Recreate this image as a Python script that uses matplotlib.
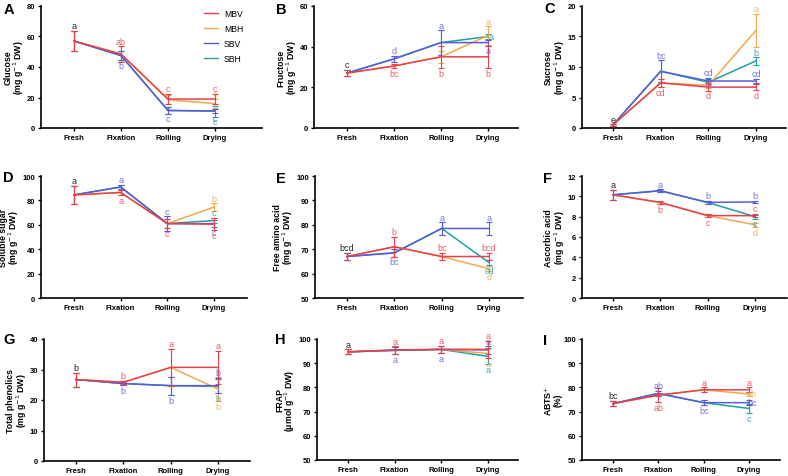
import numpy as np
import matplotlib
matplotlib.use("Agg")
from matplotlib import pyplot as plt

plt.rcParams['font.family'] = ['Liberation Sans', 'DejaVu Sans']

stages = ['Fresh', 'Fixation', 'Rolling', 'Drying']
series = ['MBV', 'MBH', 'SBV', 'SBH']
colors = ['#E8404A', '#F2A94E', '#5A5ADC', '#1FA0A4']

# values per series (MBV, MBH, SBV, SBH) at Fresh, Fixation, Rolling, Drying
glucose = [[57, 48.5, 19, 19], [57, 48.5, 18.5, 16], [57, 47.5, 11.5, 11.2], [57, 47.5, 11.5, 11]]
glucose_err = [[6.5, 5, 3.5, 3.5], [6.5, 5, 3, 3], [6.5, 3, 2, 1.5], [6.5, 3, 2, 3.5]]
glucose_let = [(0, 0, 'a', 1), (1, 0, 'ab', 1), (1, 2, 'b', -1), (2, 0, 'c', 1), (2, 2, 'c', -1),
               (3, 0, 'c', 1), (3, 1, 'c', 1), (3, 2, 'c', -1), (3, 3, 'c', -1)]

fructose = [[27, 30.5, 35, 35], [27, 30.5, 35, 45.5], [27, 34, 42, 42], [27, 34, 42, 45]]
fructose_err = [[1.5, 1, 5.5, 5.5], [1.5, 1, 3, 4.5], [1.5, 1.5, 6, 1.5], [1.5, 1.5, 6, 1]]
fructose_let = [(0, 0, 'c', 1), (1, 2, 'd', 1), (1, 0, 'bc', -1), (2, 2, 'a', 1), (2, 0, 'b', -1),
                (3, 1, 'a', 1), (3, 3, 'a', 0), (3, 2, 'a', -1), (3, 0, 'b', -1)]

sucrose = [[0.5, 7.4, 6.7, 6.7], [0.5, 7.4, 7.0, 16], [0.5, 9.3, 7.7, 7.7], [0.5, 9.3, 7.5, 11]]
sucrose_err = [[0.1, 0.7, 0.6, 0.5], [0.1, 0.7, 0.5, 2.7], [0.1, 1.8, 0.5, 0.4], [0.1, 1.8, 0.5, 0.6]]
sucrose_let = [(0, 0, 'e', 1), (1, 2, 'bc', 1), (1, 0, 'cd', -1), (2, 2, 'cd', 1), (2, 0, 'd', -1),
               (3, 1, 'a', 1), (3, 3, 'b', 1), (3, 2, 'cd', 1), (3, 0, 'd', -1)]

soluble = [[84.5, 86.5, 61, 60.5], [84.5, 86.5, 61, 74.5], [84.5, 91, 61, 61], [84.5, 91, 61, 63.5]]
soluble_err = [[7.5, 2, 4, 5], [7.5, 2, 4, 3], [7.5, 2, 6, 3], [7.5, 2, 6, 2]]
soluble_let = [(0, 0, 'a', 1), (1, 2, 'a', 1), (1, 0, 'a', -1), (2, 2, 'c', 1), (2, 0, 'c', -1),
               (3, 1, 'b', 1), (3, 3, 'c', 1), (3, 2, 'c', -1), (3, 0, 'c', -1)]

amino = [[67, 71, 67, 67], [67, 71, 67, 62], [67, 68.5, 78.5, 78.5], [67, 68.5, 78.5, 64.5]]
amino_err = [[1.5, 4, 1.5, 1.5], [1.5, 4, 1.5, 1], [1.5, 1.5, 2.5, 2.5], [1.5, 1.5, 2.5, 1]]
amino_let = [(0, 0, 'bcd', 1), (1, 0, 'b', 1), (1, 2, 'bc', -1), (2, 2, 'a', 1), (2, 0, 'bc', 1),
             (3, 2, 'a', 1), (3, 0, 'bcd', 1), (3, 3, 'cd', -1), (3, 1, 'd', -1)]

ascorbic = [[10.15, 9.4, 8.1, 8.1], [10.15, 9.4, 8.1, 7.2], [10.15, 10.55, 9.4, 9.45], [10.15, 10.55, 9.4, 8.0]]
ascorbic_err = [[0.5, 0.15, 0.15, 0.15], [0.5, 0.15, 0.15, 0.2], [0.5, 0.15, 0.15, 0.1], [0.5, 0.15, 0.15, 0.2]]
ascorbic_let = [(0, 0, 'a', 1), (1, 2, 'a', 1), (1, 0, 'b', -1), (2, 2, 'b', 1), (2, 0, 'c', -1),
                (3, 2, 'b', 1), (3, 0, 'c', 1), (3, 3, 'c', -1), (3, 1, 'd', -1)]

phenolics = [[26.7, 25.8, 30.7, 30.7], [26.7, 25.8, 30.7, 23.6], [26.7, 25.4, 24.7, 24.7], [26.7, 25.4, 24.7, 24.5]]
phenolics_err = [[2.3, 0.5, 6, 5.5], [2.3, 0.5, 6, 4], [2.3, 0.5, 3, 2.5], [2.3, 0.5, 3, 2.3]]
phenolics_let = [(0, 0, 'b', 1), (1, 0, 'b', 1), (1, 2, 'b', -1), (2, 0, 'a', 1), (2, 2, 'b', -1),
                 (3, 0, 'a', 1), (3, 2, 'b', 1), (3, 3, 'b', -1), (3, 1, 'b', -1)]

frap = [[94.7, 95.5, 95.7, 95.7], [94.7, 95.5, 95.7, 94], [94.7, 95.3, 95.7, 95.5], [94.7, 95.3, 95.7, 92.8]]
frap_err = [[1, 1.5, 1.5, 3.5], [1, 1.5, 1.5, 2], [1, 1.5, 1.5, 1.5], [1, 1.5, 1.5, 3.3]]
frap_let = [(0, 0, 'a', 1), (1, 0, 'a', 1), (1, 2, 'a', -1), (2, 0, 'a', 1), (2, 2, 'a', -1),
            (3, 0, 'a', 1), (3, 2, 'a', 1), (3, 1, 'a', -1), (3, 3, 'a', -1)]

abts = [[73.3, 76.8, 79, 79], [73.3, 76.8, 79, 77.3], [73.3, 77.5, 73.7, 73.7], [73.3, 77.5, 73.7, 71.3]]
abts_err = [[1, 3, 1, 1], [1, 3, 1, 1], [1, 1, 1, 1], [1, 1, 1, 2]]
abts_let = [(0, 0, 'bc', 1), (1, 2, 'ab', 1), (1, 0, 'ab', -1), (2, 0, 'a', 1), (2, 2, 'bc', -1),
            (3, 0, 'a', 1), (3, 1, 'ab', 0), (3, 2, 'bc', 0), (3, 3, 'c', -1)]

panels = [
    ('A', 'Glucose\n(mg g$^{-1}$ DW)', glucose, glucose_err, glucose_let, (0, 80), 20),
    ('B', 'Fructose\n(mg g$^{-1}$ DW)', fructose, fructose_err, fructose_let, (0, 60), 20),
    ('C', 'Sucrose\n(mg g$^{-1}$ DW)', sucrose, sucrose_err, sucrose_let, (0, 20), 5),
    ('D', 'Soluble sugar\n(mg g$^{-1}$ DW)', soluble, soluble_err, soluble_let, (0, 100), 20),
    ('E', 'Free amino acid\n(mg g$^{-1}$ DW)', amino, amino_err, amino_let, (50, 100), 10),
    ('F', 'Ascorbic acid\n(mg g$^{-1}$ DW)', ascorbic, ascorbic_err, ascorbic_let, (0, 12), 2),
    ('G', 'Total phenolics\n(mg g$^{-1}$ DW)', phenolics, phenolics_err, phenolics_let, (0, 40), 10),
    ('H', 'FRAP\n(μmol g$^{-1}$ DW)', frap, frap_err, frap_let, (50, 100), 10),
    ('I', 'ABTS$^{+}$\n(%)', abts, abts_err, abts_let, (50, 100), 10),
]

# pixel layout: axis left, fresh x, drying x, axis right, top y, bottom y
boxes = [
    (41, 74, 215, 262, 7, 129), (314, 347, 488, 518, 7, 129), (582, 613, 756, 786, 7, 129),
    (41, 74, 214, 247, 177, 299), (315, 347, 489, 523, 177, 299), (582, 613, 755, 787, 177, 299),
    (44, 76, 218, 250, 340, 462), (317, 348, 488, 518, 340, 461), (582, 613, 749, 780, 340, 461),
]
letter_pos = [(4, 3), (276, 3), (544, 2), (3, 171), (276, 172), (543, 172), (3, 333), (275, 333), (543, 334)]

W, H = 788, 477
fig = plt.figure(figsize=(W / 100, H / 100), dpi=100)

x = np.arange(len(stages))
order = [3, 1, 2, 0]

for k, (tag, ylab, vals, errs, lets, ylim, step) in enumerate(panels):
    l, f, d, r, t, b = boxes[k]
    ax = fig.add_axes([l / W, 1 - b / H, (r - l) / W, (b - t) / H])
    unit = (d - f) / 3
    ax.set_xlim((l - f) / unit, (r - f) / unit)
    ax.set_ylim(*ylim)
    ax.set_yticks(np.arange(ylim[0], ylim[1] + step / 2, step))
    for i in order:
        ax.errorbar(x, vals[i], yerr=errs[i], color=colors[i], lw=1.1,
                    elinewidth=0.8, capsize=2, capthick=0.8, zorder=2 + (i == 0))
    for st, si, txt, side in lets:
        c = 'black' if st == 0 else colors[si]
        y = vals[si][st]
        e = errs[si][st]
        if side > 0:
            ax.annotate(txt, (st, y + e), xytext=(0, 0.5), textcoords='offset points',
                        ha='center', va='bottom', fontsize=6.5, color=c, alpha=0.85)
        elif side < 0:
            ax.annotate(txt, (st, y - e), xytext=(0, -0.5), textcoords='offset points',
                        ha='center', va='top', fontsize=6.5, color=c, alpha=0.85)
        else:
            ax.annotate(txt, (st, y), xytext=(2, 0), textcoords='offset points',
                        ha='center', va='center', fontsize=6.5, color=c, alpha=0.85)
    ax.set_xticks(x)
    ax.set_xticklabels(stages)
    for sp in ['top', 'right']:
        ax.spines[sp].set_visible(False)
    for sp in ['left', 'bottom']:
        ax.spines[sp].set_linewidth(1.2)
    ax.tick_params(labelsize=5.5, length=2.5, width=1, pad=1.5)
    for lab in ax.get_xticklabels() + ax.get_yticklabels():
        lab.set_fontweight('bold')
    ax.set_ylabel(ylab, fontsize=6.3, fontweight='bold', labelpad=1, linespacing=0.9)
    lx, ly = letter_pos[k]
    fig.text(lx / W, 1 - ly / H, tag, fontsize=10.5, fontweight='bold', ha='left', va='top')
    if k == 0:
        handles = [plt.Line2D([], [], color=colors[i], lw=1) for i in range(4)]
        ax.legend(handles, series, loc='upper right', bbox_to_anchor=(0.95, 1.04), frameon=False,
                  fontsize=6.2, handlelength=1.6, labelspacing=0.7, handletextpad=0.7)

fig.savefig('out.png', dpi=100)
